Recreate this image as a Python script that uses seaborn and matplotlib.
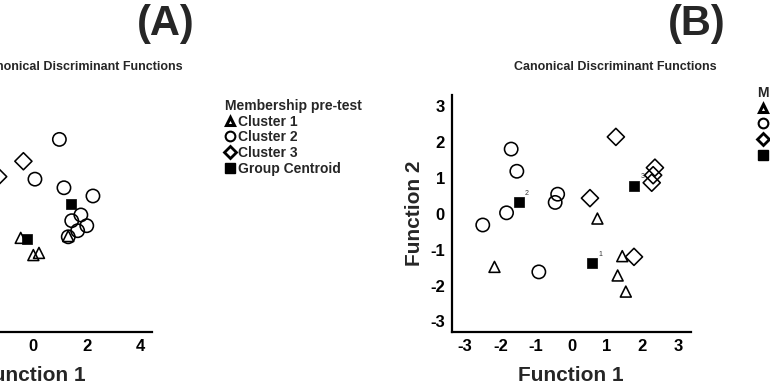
import matplotlib
matplotlib.use("Agg")
import matplotlib.pyplot as plt
import seaborn as sns
import pandas as pd
from matplotlib.lines import Line2D

# ---------------- data ----------------
# Panel A (only the visible part of the original panel)
a_func1 = [0.97, 0.06, 1.14, 2.22, 1.77, 1.43, 1.99, 1.65, 1.30,
           -0.47, 0.00, 0.21, 1.30,
           -0.37, -1.31]
a_func2 = [2.08, 0.97, 0.73, 0.50, -0.03, -0.19, -0.33, -0.47, -0.64,
           -0.67, -1.15, -1.09, -0.62,
           1.47, 1.04]
a_group = ["Cluster 2", "Cluster 2", "Cluster 2", "Cluster 2", "Cluster 2",
           "Cluster 2", "Cluster 2", "Cluster 2", "Cluster 2",
           "Cluster 1", "Cluster 1", "Cluster 1", "Cluster 1",
           "Cluster 3", "Cluster 3"]
a_cent_func1 = [-0.25, 1.39]
a_cent_func2 = [-0.71, 0.29]

# Panel B
b_func1 = [-2.50, -1.83, -1.70, -1.54, -0.39, -0.46, -0.92,
           -2.17, 0.73, 1.43, 1.30, 1.53,
           1.25, 0.52, 1.76, 2.35, 2.30, 2.26]
b_func2 = [-0.31, 0.03, 1.81, 1.19, 0.55, 0.32, -1.62,
           -1.48, -0.13, -1.18, -1.72, -2.17,
           2.15, 0.44, -1.20, 1.29, 1.08, 0.87]
b_group = ["Cluster 2", "Cluster 2", "Cluster 2", "Cluster 2", "Cluster 2",
           "Cluster 2", "Cluster 2",
           "Cluster 1", "Cluster 1", "Cluster 1", "Cluster 1", "Cluster 1",
           "Cluster 3", "Cluster 3", "Cluster 3", "Cluster 3", "Cluster 3",
           "Cluster 3"]
b_cent_func1 = [0.57, -1.49, 1.76]
b_cent_func2 = [-1.38, 0.32, 0.78]
b_cent_labels = ["1", "2", "3"]

clusters = ["Cluster 1", "Cluster 2", "Cluster 3"]
legend_labels = ["Cluster 1", "Cluster 2", "Cluster 3", "Group Centroid"]
legend_title = "Membership pre-test"
panel_titles = ["(A)", "(B)"]
subtitle = "Canonical Discriminant Functions"
xlabel = "Function 1"
ylabel = "Function 2"
a_xticks = [-4, -2, 0, 2, 4]
b_ticks = [-3, -2, -1, 0, 1, 2, 3]

# ---------------- style ----------------
sns.set_style("white")
plt.rcParams["font.family"] = ["Liberation Sans", "DejaVu Sans"]
plt.rcParams["font.weight"] = "bold"
plt.rcParams["axes.labelweight"] = "bold"

W, H = 770, 390
fig = plt.figure(figsize=(W / 100, H / 100), dpi=100)


def px_axes(left, right, top, bottom):
    return fig.add_axes([left / W, 1 - bottom / H, (right - left) / W, (bottom - top) / H])


ax_a = px_axes(-86.7, 152.3, 95, 331.7)
ax_b = px_axes(451.7, 690.7, 95, 331.7)

marker_map = {"Cluster 1": "^", "Cluster 2": "o", "Cluster 3": "D"}
size_map = {"Cluster 1": 62, "Cluster 2": 92, "Cluster 3": 76}


def draw(ax, f1, f2, grp, cf1, cf2):
    df = pd.DataFrame({"f1": f1, "f2": f2, "group": grp})
    for c in clusters:
        sub = df[df["group"] == c]
        sns.scatterplot(data=sub, x="f1", y="f2", marker=marker_map[c],
                        s=size_map[c], facecolor="none", edgecolor="black",
                        linewidth=1.15, ax=ax, legend=False, zorder=3)
    cdf = pd.DataFrame({"f1": cf1, "f2": cf2})
    sns.scatterplot(data=cdf, x="f1", y="f2", marker="s", s=62, color="black",
                    edgecolor="black", linewidth=0.5, ax=ax, legend=False, zorder=4)
    for side in ["top", "right"]:
        ax.spines[side].set_visible(False)
    for side in ["left", "bottom"]:
        ax.spines[side].set_linewidth(1.6)
        ax.spines[side].set_color("black")
    ax.tick_params(axis="both", length=0, labelsize=12, pad=5, colors="black")
    ax.set_xlabel(xlabel, fontsize=15, fontweight="bold", labelpad=9)
    ax.set_ylabel(ylabel, fontsize=15, fontweight="bold", labelpad=4)


draw(ax_a, a_func1, a_func2, a_group, a_cent_func1, a_cent_func2)
draw(ax_b, b_func1, b_func2, b_group, b_cent_func1, b_cent_func2)

ax_a.set_xlim(-4.47, 4.43)
ax_a.set_ylim(-3.29, 3.32)
ax_a.set_xticks(a_xticks)
ax_a.set_yticks(b_ticks)
ax_b.set_xlim(-3.375, 3.358)
ax_b.set_ylim(-3.29, 3.32)
ax_b.set_xticks(b_ticks)
ax_b.set_yticks(b_ticks)
for ax in (ax_a, ax_b):
    ax.set_xticklabels([str(t) for t in ax.get_xticks().astype(int)], fontweight="bold")
    ax.set_yticklabels([str(t) for t in ax.get_yticks().astype(int)], fontweight="bold")

for x, y, t in zip(b_cent_func1, b_cent_func2, b_cent_labels):
    ax_b.annotate(t, (x, y), xytext=(4.5, 5.5), textcoords="offset points",
                  fontsize=5, color="#333333", fontweight="normal")

# titles
fig.text(166 / W, 1 - 24 / H, panel_titles[0], fontsize=30, fontweight="bold",
         ha="center", va="center")
fig.text(697 / W, 1 - 24 / H, panel_titles[1], fontsize=30, fontweight="bold",
         ha="center", va="center")
fig.text(183 / W, 1 - 67 / H, subtitle, fontsize=9, fontweight="bold",
         ha="right", va="center")
fig.text(615.5 / W, 1 - 67 / H, subtitle, fontsize=9, fontweight="bold",
         ha="center", va="center")


def legend_handles():
    return [
        Line2D([], [], ls="none", marker="^", markersize=6, markerfacecolor="white",
               markeredgecolor="black", markeredgewidth=2.2),
        Line2D([], [], ls="none", marker="o", markersize=7, markerfacecolor="white",
               markeredgecolor="black", markeredgewidth=1.5),
        Line2D([], [], ls="none", marker="D", markersize=6, markerfacecolor="white",
               markeredgecolor="black", markeredgewidth=2.0),
        Line2D([], [], ls="none", marker="s", markersize=7, markerfacecolor="black",
               markeredgecolor="black"),
    ]


for ax, lx, ly in ((ax_a, 225, 99), (ax_b, 758, 86)):
    leg = ax.legend(handles=legend_handles(), labels=legend_labels, title=legend_title,
                    loc="upper left", bbox_to_anchor=(lx / W, 1 - ly / H),
                    bbox_transform=fig.transFigure, frameon=False, fontsize=10,
                    title_fontproperties={"weight": "bold", "size": 10},
                    alignment="left", borderpad=0, borderaxespad=0,
                    handlelength=0.7, handletextpad=0.25, labelspacing=0.12)
    for t in leg.get_texts():
        t.set_fontweight("bold")

fig.savefig("out.png", dpi=100)
